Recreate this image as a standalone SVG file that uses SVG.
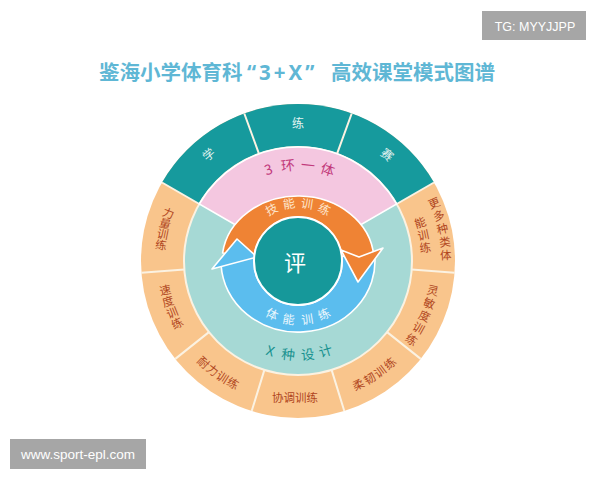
<svg xmlns="http://www.w3.org/2000/svg" width="600" height="480" viewBox="0 0 600 480">
<style>
.t{font-family:'Noto Sans CJK SC','Noto Sans',sans-serif;text-anchor:middle;dominant-baseline:central}
.w{fill:#e4f4f2;font-size:12px}
.p{fill:#c23a7c;font-size:14px}
.o{fill:#b0451e;font-size:11.5px}
.x{fill:#17918f;font-size:13.5px}
.k{fill:#fde5cc;font-size:12px}
.b{fill:#eef8fd;font-size:12px}
.div{stroke:#fbf2e2;stroke-width:2;fill:none}
.arr{stroke:#ffffff;stroke-width:1.6;stroke-linejoin:round}
.wm{font-family:'Liberation Sans',Arial,sans-serif;fill:#ffffff;text-anchor:middle}
</style>
<rect width="600" height="480" fill="#ffffff"/>
<g id="title" font-family="'Noto Sans CJK SC',sans-serif" font-weight="bold" font-size="20.5" fill="#5fb7d5">
<text x="99" y="79.5">鉴海小学体育科</text>
<text x="247" y="79.5" font-family="'Noto Sans',sans-serif" letter-spacing="3">“3+X”</text>
<text x="331" y="79.5">高效课堂模式图谱</text>
</g>
<g id="outer-ring">
<circle cx="298" cy="261" r="157" fill="#f9c58c"/>
<path d="M298,261 L434.0,182.5 A157,157 0 0,0 162.0,182.5 Z" fill="#169a9d"/>
<path class="div" d="M396.7,204.0 L434.0,182.5 M337.0,153.9 L351.7,113.5 M259.0,153.9 L244.3,113.5 M199.3,204.0 L162.0,182.5 M184.3,269.5 L141.4,272.7 M208.9,332.1 L175.3,358.9 M264.4,369.9 L251.7,411.0 M331.6,369.9 L344.3,411.0 M387.1,332.1 L420.7,358.9 M411.7,269.5 L454.6,272.7"/>
</g>
<g id="sector-xue"><text class="t w" transform="translate(208,153.8) rotate(-40)">学</text></g>
<g id="sector-lian"><text class="t w" transform="translate(298,122)">练</text></g>
<g id="sector-sai"><text class="t w" transform="translate(388,153.8) rotate(40)">赛</text></g>
<g id="sector-liliang" class="t o">
<text transform="translate(168.7,212.7) rotate(20.5)">力</text>
<text transform="translate(165.3,223.0) rotate(16)">量</text>
<text transform="translate(162.8,233.5) rotate(11.5)">训</text>
<text transform="translate(161.0,244.2) rotate(7)">练</text>
</g>
<g id="sector-sudu" class="t o">
<text transform="translate(165.0,289.3) rotate(-12)">速</text>
<text transform="translate(167.9,300.8) rotate(-17)">度</text>
<text transform="translate(171.9,312.0) rotate(-22)">训</text>
<text transform="translate(176.8,322.7) rotate(-27)">练</text>
</g>
<g id="sector-naili" class="t o">
<text transform="translate(203.9,361.9) rotate(43)">耐</text>
<text transform="translate(213.0,369.7) rotate(38)">力</text>
<text transform="translate(222.8,376.7) rotate(33)">训</text>
<text transform="translate(233.2,382.8) rotate(28)">练</text>
</g>
<g id="sector-xietiao" class="t o">
<text x="295" y="397">协调训练</text>
</g>
<g id="sector-rouren" class="t o">
<text transform="translate(358.1,384.1) rotate(-26)">柔</text>
<text transform="translate(369.2,378.1) rotate(-31.3)">韧</text>
<text transform="translate(379.7,371.0) rotate(-36.6)">训</text>
<text transform="translate(389.5,363.0) rotate(-41.9)">练</text>
</g>
<g id="sector-lingmin" class="t o">
<text transform="translate(433.0,289.7) rotate(12)">灵</text>
<text transform="translate(429.5,302.7) rotate(17.6)">敏</text>
<text transform="translate(424.8,315.4) rotate(23.2)">度</text>
<text transform="translate(418.9,327.5) rotate(28.8)">训</text>
<text transform="translate(411.9,339.0) rotate(34.4)">练</text>
</g>
<g id="sector-gengduo" class="t o">
<text transform="translate(433.9,202.5) rotate(-23.3)">更</text>
<text transform="translate(438.7,215.0) rotate(-18.1)">多</text>
<text transform="translate(442.3,228.0) rotate(-12.9)">种</text>
<text transform="translate(444.7,241.2) rotate(-7.7)">类</text>
<text transform="translate(445.9,254.5) rotate(-2.5)">体</text>
<text transform="translate(419.9,222.1) rotate(-17.7)">能</text>
<text transform="translate(423.2,234.4) rotate(-12)">训</text>
<text transform="translate(425.2,247.0) rotate(-6.3)">练</text>
</g>
<g id="middle-ring">
<circle cx="298" cy="261" r="114" fill="#a6d9d5" stroke="#fbf2e2" stroke-width="2"/>
<path d="M298,261 L396.7,204.0 A114,114 0 0,0 199.3,204.0 Z" fill="#f4c7e0" stroke="#ffffff" stroke-width="1.6"/>
</g>
<g id="ring-3huan" class="t p">
<text transform="translate(268.0,168.7) rotate(-18)">3</text>
<text transform="translate(287.9,164.5) rotate(-6)">环</text>
<text transform="translate(308.1,164.5) rotate(6)">一</text>
<text transform="translate(328.0,168.7) rotate(18)">体</text>
</g>
<g id="ring-xzhong" class="t x">
<text transform="translate(270.8,349.9) rotate(17)">X</text>
<text transform="translate(288.3,353.5) rotate(6)">种</text>
<text transform="translate(307.7,353.5) rotate(-6)">设</text>
<text transform="translate(325.2,349.9) rotate(-17)">计</text>
</g>
<g id="connectors">
<path class="arr" fill="#5bbdee" d="M374.7,255 A77,71 0 1,1 221.1,265 L256,255 L254.3,256 A44,44 0 1,0 341.7,256 Z"/>
<path class="arr" fill="#ef8334" d="M222.6,253 A76,65 0 0,1 373.8,256 L359,259 L341.7,256 A44,44 0 0,0 254.3,256 Z"/>
<path class="arr" fill="#5bbdee" d="M212,269 L237,239 L257,257 Z"/>
<path class="arr" fill="#ef8334" d="M341,250 L359,257 L383,248 L358,282 Z"/>
</g>
<g id="arrow-jineng" class="t k">
<text transform="translate(271.2,208.4) rotate(-27)">技</text>
<text transform="translate(288.8,202.7) rotate(-9)">能</text>
<text transform="translate(307.2,202.7) rotate(9)">训</text>
<text transform="translate(324.8,208.4) rotate(27)">练</text>
</g>
<g id="arrow-tineng" class="t b">
<text transform="translate(272.6,313.1) rotate(26)">体</text>
<text transform="translate(288.9,318.3) rotate(9)">能</text>
<text transform="translate(307.1,318.3) rotate(-9)">训</text>
<text transform="translate(323.4,313.1) rotate(-26)">练</text>
</g>
<g id="center-ping">
<circle cx="298" cy="261" r="44" fill="#16989a" stroke="#ffffff" stroke-width="2"/>
<text class="t" x="295" y="261" font-size="22" fill="#ffffff">评</text>
</g>
<g id="watermark-tg">
<rect x="482" y="11" width="104" height="29" fill="#a6a6a6"/>
<text class="wm" x="535" y="31" font-size="12.5">TG: MYYJJPP</text>
</g>
<g id="watermark-url">
<rect x="10" y="439" width="136" height="30" fill="#a6a6a6"/>
<text class="wm" x="78" y="459" font-size="13.5">www.sport-epl.com</text>
</g>
</svg>
